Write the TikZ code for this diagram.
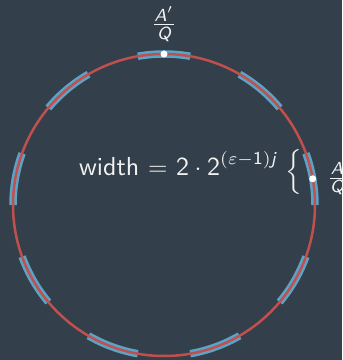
\documentclass[tikz,border=0pt]{standalone}
\usepackage{amsmath}
\usetikzlibrary{positioning}
\definecolor{Slate}{HTML}{333F4A}
\definecolor{RingRed}{HTML}{C0504D}
\definecolor{ArcBlue}{HTML}{5BA4C8}
\definecolor{Chalk}{HTML}{F2F2F2}
\renewcommand{\familydefault}{\sfdefault}
\newcommand{\sv}[1]{\text{\itshape #1}}
\newcommand{\sd}[1]{\text{#1}}

\begin{document}
\begin{tikzpicture}[x=0.4pt,y=0.4pt,
    ringarc/.style={ArcBlue,line width=3pt},
    ring/.style={RingRed,line width=1pt},
    pt/.style={circle,fill=white,inner sep=0pt,minimum size=2.8pt},
    lbl/.style={text=Chalk,inner sep=1pt}]
        \fill[Slate] (0,0) rectangle (342,360);
        \useasboundingbox (0,0) rectangle (342,360);
        \coordinate (c) at (164,155);
        \foreach \a in {0,40,...,320} {\draw[ringarc,shift={(c)}] (\a:151) arc[start angle=\a,end angle=\a+20,radius=151];}
        \draw[ring] (c) circle[radius=151];
        \node[pt] (ptop) at ([shift={(90:151)}]c) {};
        \node[pt] (pright) at ([shift={(10:151)}]c) {};
        \node[lbl,above=2pt of ptop] (qtop) {$\frac{\sv{A}'}{\sv{Q}}$};
        \node[lbl,right=3pt of pright] (qright) {$\frac{\sv{A}}{\sv{Q}}$};
        \node[lbl,anchor=east] (brace) at (305,188) {$\Big\{$};
        \node[lbl,anchor=base east,font=\fontsize{10.4}{12.5}\selectfont] (width) at (280,184) {width ${=}\ \sd{2}\cdot\sd{2}^{(\varepsilon-\sd{1})\sv{j}}$};
      \end{tikzpicture}
\end{document}
